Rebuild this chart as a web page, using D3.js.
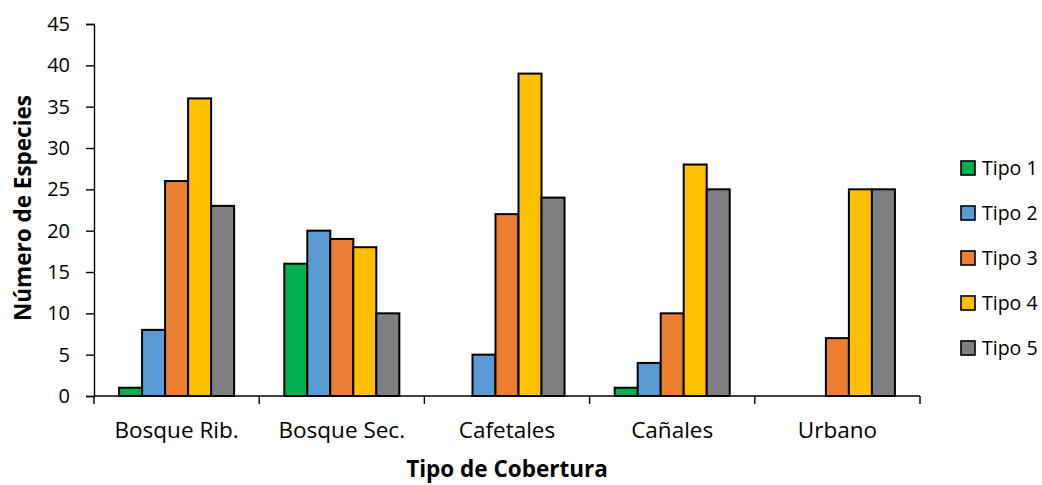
<!DOCTYPE html>
<html>
<head>
<meta charset="utf-8">
<script src="https://cdn.jsdelivr.net/npm/d3@7"></script>
<style>
  html, body { margin: 0; padding: 0; background: #fff; }
  svg { display: block; font-family: "Open Sans", sans-serif; }
</style>
</head>
<body>
<svg id="chart" width="1042" height="485"></svg>
<script>
// Coverage types and species counts per type
const categories = ["Bosque Rib.", "Bosque Sec.", "Cafetales", "Cañales", "Urbano"];
const seriesNames = ["Tipo 1", "Tipo 2", "Tipo 3", "Tipo 4", "Tipo 5"];
const tipo1 = [1, 16, 0, 1, 0];
const tipo2 = [8, 20, 5, 4, 0];
const tipo3 = [26, 19, 22, 10, 7];
const tipo4 = [36, 18, 39, 28, 25];
const tipo5 = [23, 10, 24, 25, 25];
const yTicks = [0, 5, 10, 15, 20, 25, 30, 35, 40, 45];
const colors = ["#00b050", "#5b9bd5", "#ed7d31", "#ffc000", "#7f7f7f"];

const series = [tipo1, tipo2, tipo3, tipo4, tipo5];

const svg = d3.select("#chart");
const margin = { left: 94, right: 122, top: 24, bottom: 89 };
const W = 1042, H = 485;

const x = d3.scaleBand().domain(categories).range([margin.left, W - margin.right]).paddingInner(0).paddingOuter(0);
// five touching bars centred in each group with a gap on both sides
const inner = d3.scaleBand().domain(seriesNames).range([0, x.bandwidth()]).paddingInner(0).paddingOuter(1.09);
const y = d3.scaleLinear().domain([0, 45]).range([H - margin.bottom, margin.top]);

// bars
categories.forEach((cat, ci) => {
  const g = svg.append("g").attr("transform", `translate(${x(cat)},0)`);
  series.forEach((vals, si) => {
    const v = vals[ci];
    if (v <= 0) return;
    g.append("rect")
      .attr("x", inner(seriesNames[si]))
      .attr("y", y(v))
      .attr("width", inner.bandwidth())
      .attr("height", y(0) - y(v))
      .attr("fill", colors[si])
      .attr("stroke", "#000")
      .attr("stroke-width", 2);
  });
});

// y axis
const yAxis = svg.append("g")
  .attr("transform", `translate(${margin.left},0)`)
  .call(d3.axisLeft(y).tickValues(yTicks).tickSize(8).tickPadding(16));
yAxis.select(".domain").attr("stroke", "#000").attr("stroke-width", 1.4);
yAxis.selectAll(".tick line").attr("stroke", "#000").attr("stroke-width", 1.4);
yAxis.selectAll(".tick text").attr("font-size", 20).attr("fill", "#000").attr("font-family", "'Open Sans', sans-serif");

// x axis with ticks at category boundaries
const xAxisG = svg.append("g").attr("transform", `translate(0,${y(0)})`);
xAxisG.append("line")
  .attr("x1", margin.left).attr("x2", W - margin.right)
  .attr("stroke", "#000").attr("stroke-width", 1.4);
const boundaries = categories.map(c => x(c)).concat([x(categories[categories.length - 1]) + x.bandwidth()]);
xAxisG.selectAll("line.b").data(boundaries).enter().append("line")
  .attr("class", "b")
  .attr("x1", d => d).attr("x2", d => d)
  .attr("y1", 0).attr("y2", 8)
  .attr("stroke", "#000").attr("stroke-width", 1.4);
xAxisG.selectAll("text.cat").data(categories).enter().append("text")
  .attr("class", "cat")
  .attr("x", d => x(d) + x.bandwidth() / 2)
  .attr("y", 42)
  .attr("text-anchor", "middle")
  .attr("font-size", 22.5)
  .attr("fill", "#000")
  .text(d => d);

// axis titles
svg.append("text")
  .attr("x", (margin.left + W - margin.right) / 2)
  .attr("y", 477)
  .attr("text-anchor", "middle")
  .attr("font-size", 22.5)
  .attr("font-weight", "bold")
  .text("Tipo de Cobertura");

svg.append("text")
  .attr("transform", `translate(31,208) rotate(-90)`)
  .attr("text-anchor", "middle")
  .attr("font-size", 22.5)
  .attr("font-weight", "bold")
  .text("Número de Especies");

// legend
const legend = svg.append("g");
seriesNames.forEach((name, i) => {
  const cy = 168 + i * 45;
  legend.append("rect")
    .attr("x", 961).attr("y", cy - 7)
    .attr("width", 14).attr("height", 14)
    .attr("fill", colors[i])
    .attr("stroke", "#000").attr("stroke-width", 1.6);
  legend.append("text")
    .attr("x", 982).attr("y", cy + 7)
    .attr("font-size", 19.5)
    .attr("fill", "#000")
    .text(name);
});
</script>
</body>
</html>
